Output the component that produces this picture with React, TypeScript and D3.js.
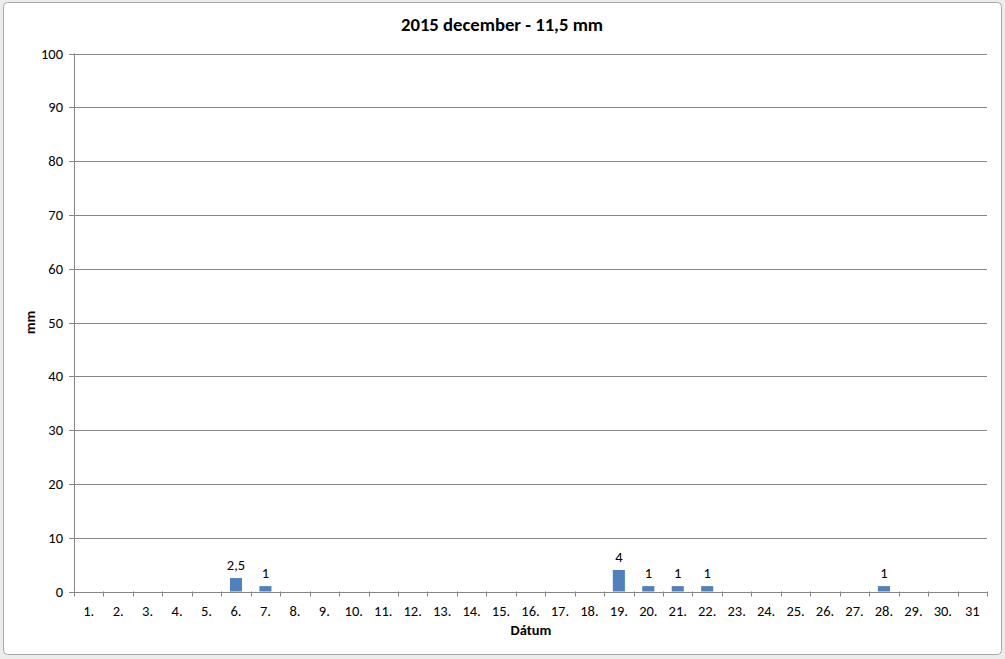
import React from "react";
import * as d3 from "d3";

const days: string[] = [
  "1.", "2.", "3.", "4.", "5.", "6.", "7.", "8.", "9.", "10.",
  "11.", "12.", "13.", "14.", "15.", "16.", "17.", "18.", "19.", "20.",
  "21.", "22.", "23.", "24.", "25.", "26.", "27.", "28.", "29.", "30.", "31",
];
const rain: (number | null)[] = [
  null, null, null, null, null, 2.5, 1, null, null, null,
  null, null, null, null, null, null, null, null, 4, 1,
  1, 1, null, null, null, null, null, 1, null, null, null,
];
const yTicks: number[] = [0, 10, 20, 30, 40, 50, 60, 70, 80, 90, 100];
const title = "2015 december - 11,5 mm";
const xTitle = "Dátum";
const yTitle = "mm";

const W = 1005;
const H = 659;
const FONT = "Carlito, Lato, 'Open Sans', sans-serif";
const FS = 14.5;

export default function App() {
  const left = 74, right = 987, top = 53.5, bottom = 591.5;
  const x = d3.scaleBand<string>().domain(days).range([left, right]).padding(0);
  const y = d3.scaleLinear().domain([0, 100]).range([bottom, top]);
  const barW = x.bandwidth() * 0.41;
  const fmt = (v: number) => String(v).replace(".", ",");

  return (
    <svg
      width={W}
      height={H}
      style={{ position: "fixed", left: 0, top: 0, background: "#fff" }}
      fontFamily={FONT}
    >
      <rect x={0} y={0} width={W} height={H} fill="#ececec" />
      <rect x={3.5} y={2.5} width={998} height={652} rx={4} fill="#fff" stroke="#a8a8a8" />
      <text x={502} y={31} textAnchor="middle" fontSize={18.7} fontWeight="bold" fill="#000">
        {title}
      </text>
      {yTicks.map((t) => (
        <g key={t}>
          <line x1={left - 5} x2={right} y1={Math.round(y(t)) + 0.5} y2={Math.round(y(t)) + 0.5} stroke="#868686" />
          <text x={63} y={y(t)} dy="0.35em" textAnchor="end" fontSize={FS} fill="#000">
            {t}
          </text>
        </g>
      ))}
      <line x1={left + 0.5} x2={left + 0.5} y1={top} y2={bottom} stroke="#868686" />
      {days.map((d, i) => (
        <line
          key={"t" + i}
          x1={Math.round(x(d)!) + 0.5}
          x2={Math.round(x(d)!) + 0.5}
          y1={bottom}
          y2={bottom + 5}
          stroke="#868686"
        />
      ))}
      <line x1={right + 0.5} x2={right + 0.5} y1={bottom} y2={bottom + 5} stroke="#868686" />
      {days.map((d) => (
        <text
          key={"l" + d}
          x={x(d)! + x.bandwidth() / 2}
          y={611}
          dy="0.35em"
          textAnchor="middle"
          fontSize={FS}
          fill="#000"
        >
          {d}
        </text>
      ))}
      {days.map((d, i) => {
        const v = rain[i];
        if (v == null) return null;
        const cx = x(d)! + x.bandwidth() / 2;
        return (
          <g key={"b" + d}>
            <rect x={cx - barW / 2} y={y(v)} width={barW} height={y(0) - y(v)} fill="#4F81BD" />
            <text x={cx} y={y(v) - 13} dy="0.35em" textAnchor="middle" fontSize={FS} fill="#000">
              {fmt(v)}
            </text>
          </g>
        );
      })}
      <text x={531} y={630} dy="0.35em" textAnchor="middle" fontSize={FS} fontWeight="bold" fill="#000">
        {xTitle}
      </text>
      <text
        transform={`translate(30,${(top + bottom) / 2}) rotate(-90)`}
        dy="0.35em"
        textAnchor="middle"
        fontSize={FS}
        fontWeight="bold"
        fill="#000"
      >
        {yTitle}
      </text>
    </svg>
  );
}
